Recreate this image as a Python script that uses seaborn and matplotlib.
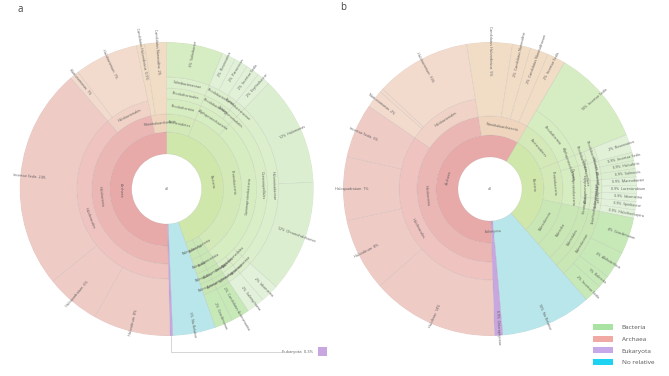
import numpy as np
import pandas as pd
import matplotlib
matplotlib.use("Agg")
import matplotlib.pyplot as plt
from matplotlib.patches import Patch, Rectangle
from matplotlib.lines import Line2D
import seaborn as sns

# ---------------- data ----------------
# chart a: leaves in clockwise order starting at 12 o'clock (percent of reads)
A_PATHS = [
    "Bacteria;Bacteroidetes;Rhodothermia;Rhodothermales;Salinibacteraceae;Salinibacter",
    "Bacteria;Proteobacteria;Alphaproteobacteria;Rhodobacterales;Rhodobacteraceae;Roseovarius",
    "Bacteria;Proteobacteria;Alphaproteobacteria;Rhodobacterales;Rhodobacteraceae;Paracoccus",
    "Bacteria;Proteobacteria;Alphaproteobacteria;Rhodobacterales;Rhodobacteraceae;Incertae Sedis",
    "Bacteria;Proteobacteria;Alphaproteobacteria;Sphingomonadales;Erythrobacteraceae;Erythrobacter",
    "Bacteria;Proteobacteria;Gammaproteobacteria;Oceanospirillales;Halomonadaceae;Halomonas",
    "Bacteria;Proteobacteria;Gammaproteobacteria;Oceanospirillales;Halomonadaceae;Chromohalobacter",
    "Bacteria;Proteobacteria;Gammaproteobacteria;Alteromonadales;Idiomarinaceae;Idiomarina",
    "Bacteria;Proteobacteria;Gammaproteobacteria;Chromatiales;Salinisphaeraceae;Salinisphaera",
    "Bacteria;Actinobacteria;Acidimicrobiia;Actinomarinales;Actinomarinaceae;Candidatus Actinomarina",
    "Bacteria;Balneolaeota;Balneolia;Balneolales;Balneolaceae;Gracilimonas",
    "No Relative",
    "Eukaryota",
    "Archaea;Halobacteria;Haloferacales;Halorubrum",
    "Archaea;Halobacteria;Haloferacales;Haloquadratum",
    "Archaea;Halobacteria;Haloferacales;Incertae Sedis",
    "Archaea;Halobacteria;Halobacteriales;Natronomonas",
    "Archaea;Halobacteria;Halobacteriales;Halobacterium",
    "Archaea;Nanohaloarchaeota;Candidatus Haloredivivus",
    "Archaea;Nanohaloarchaeota;Candidatus Nanosalina",
]
A_VALUES = [6.2, 1.5, 1.5, 1.5, 1.5, 12.0, 12.3, 2.0, 2.0, 2.0, 2.0,
            4.7, 0.3,
            8.5, 6.0, 24.4, 1.0, 7.0, 0.9, 2.4]

# chart b
B_PATHS = [
    "Bacteria;Bacteroidetes;Rhodothermia;Incertae Sedis",
    "Bacteria;Proteobacteria;Alphaproteobacteria;Rhodobacterales;Rhodobacteraceae;Roseovarius",
    "Bacteria;Proteobacteria;Gammaproteobacteria;Oceanospirillales;Halomonadaceae;Incertae Sedis",
    "Bacteria;Proteobacteria;Gammaproteobacteria;Oceanospirillales;Halomonadaceae;Halovibrio",
    "Bacteria;Proteobacteria;Gammaproteobacteria;Oceanospirillales;Halomonadaceae;Salinicola",
    "Bacteria;Proteobacteria;Gammaproteobacteria;Alteromonadales;Alteromonadaceae;Marinobacter",
    "Bacteria;Proteobacteria;Gammaproteobacteria;Alteromonadales;Alteromonadaceae;Lacimicrobium",
    "Bacteria;Proteobacteria;Gammaproteobacteria;Alteromonadales;Idiomarinaceae;Idiomarina",
    "Bacteria;Proteobacteria;Gammaproteobacteria;Chromatiales;Ectothiorhodospiraceae;Spiribacter",
    "Bacteria;Proteobacteria;Gammaproteobacteria;Chromatiales;Ectothiorhodospiraceae;Halorhodospira",
    "Bacteria;Balneolaeota;Balneolia;Balneolales;Balneolaceae;Gracilimonas",
    "Bacteria;Balneolaeota;Balneolia;Balneolales;Balneolaceae;Aliifodinibius",
    "Bacteria;Balneolaeota;Balneolia;Balneolales;Balneolaceae;Balneola",
    "Bacteria;Balneolaeota;Balneolia;Balneolales;Balneolaceae;Incertae Sedis",
    "No Relative",
    "Eukaryota;Chlorophyceae",
    "Archaea;Halobacteria;Haloferacales;Haloferax",
    "Archaea;Halobacteria;Haloferacales;Halorubrum",
    "Archaea;Halobacteria;Haloferacales;Haloquadratum",
    "Archaea;Halobacteria;Haloferacales;Incertae Sedis",
    "Archaea;Halobacteria;Halobacteriales;Natronomonas",
    "Archaea;Halobacteria;Halobacteriales;Halobellus",
    "Archaea;Halobacteria;Halobacteriales;Halobacterium",
    "Archaea;Nanohaloarchaeota;Candidatus Haloredivivus",
    "Archaea;Nanohaloarchaeota;Candidatus Nanosalina",
    "Archaea;Nanohaloarchaeota;Candidatus Nanosalinarum",
    "Archaea;Nanohaloarchaeota;Incertae Sedis",
]
B_VALUES = [10.5, 2.0, 0.9, 0.9, 0.9, 0.9, 0.9, 0.9, 0.9, 0.9, 4.0, 3.0, 1.4, 2.0,
            10.0, 0.9,
            14.0, 8.0, 7.0, 6.0, 2.0, 0.4, 10.5, 5.0, 2.0, 2.0, 2.0]

LEGEND_LABELS = ["Bacteria", "Archaea", "Eukaryota", "No relative"]
LEGEND_COLORS = ["#a9e2a2", "#f1aaa3", "#c7a9e9", "#1ed3f1"]

# ---------------- style ----------------
sns.set_theme(style="white")
plt.rcParams["font.family"] = ["Open Sans", "DejaVu Sans"]

W, H = 669, 376
fig = plt.figure(figsize=(W / 100, H / 100), dpi=100)

OUTER = 147
RINGS_A = [35, 57, 75, 90, 101, 112]
RINGS_B = [32, 54, 73, 91, 101, 112]
TXT = "#5a5a5a"
FS = 2.6


def node_color(prefix, leaf):
    k = prefix[0]
    d = len(prefix)
    if k == "No Relative":
        return "#b9e6ea"
    if k == "Eukaryota":
        return "#c8a6e0"
    if k == "Archaea":
        if "Nanohaloarchaeota" in prefix:
            return "#f1dcc6" if leaf else "#efd5bd"
        if "Halobacteriales" in prefix:
            return "#f2dacd" if leaf else "#f0d3c6"
        return ["#e8a9a9", "#ebb7b5", "#eec3c0", "#efcbc6"][min(d, 4) - 1]
    # Bacteria
    greener = any(p in prefix for p in ("Balneolaeota", "Actinobacteria"))
    if greener and d >= 2:
        return "#c6e9b7" if leaf else "#c9e7b5"
    if leaf:
        if "Bacteroidetes" in prefix:
            return "#d6ecc2"
        if "Alphaproteobacteria" in prefix:
            return "#e0f1d8"
        if len(prefix) == 6 and prefix[-2] != "Halomonadaceae":
            return "#e2f2da"
        return "#dbefd0"
    return ["#cfe7ab", "#d3eab8", "#d6ecc1", "#d9eec7", "#dcefcc"][min(d, 5) - 1]


def pct_text(v):
    return f"{v:.1f}%" if v < 1 else f"{round(v):.0f}%"


def norm_rot(a):
    a = (a + 180) % 360 - 180
    return a


def draw_sunburst(ax, paths, values, rings, rot, key_min=1.5):
    splits = [p.split(";") for p in paths]
    vals = np.asarray(values, float)
    span = vals / vals.sum() * 360
    ends = rot + np.cumsum(span)
    starts = ends - span
    rows = []
    maxd = max(len(s) for s in splits)
    for d in range(1, maxd + 1):
        cur, cs, ce, last = None, None, None, None
        for i, s in enumerate(splits):
            if len(s) > d:
                key = tuple(s[:d])
                if cur == key and last == i - 1:
                    ce = ends[i]
                else:
                    if cur is not None:
                        rows.append((cur, cs, ce, False, None))
                    cur, cs, ce = key, starts[i], ends[i]
                last = i
        if cur is not None:
            rows.append((cur, cs, ce, False, None))
    for i, s in enumerate(splits):
        rows.append((tuple(s), starts[i], ends[i], True, vals[i]))

    df = pd.DataFrame(rows, columns=["prefix", "start", "end", "leaf", "value"])
    df["depth"] = df["prefix"].apply(len)
    df["r_in"] = df["depth"].apply(lambda d: rings[d - 1])
    df["r_out"] = [OUTER if lf else rings[d] for lf, d in zip(df["leaf"], df["depth"])]
    df["mid"] = (df["start"] + df["end"]) / 2
    df["color"] = [node_color(p, lf) for p, lf in zip(df["prefix"], df["leaf"])]

    ax.bar(np.deg2rad(df["mid"]), df["r_out"] - df["r_in"],
           width=np.deg2rad(df["end"] - df["start"]), bottom=df["r_in"],
           color=df["color"], edgecolor=(0.55, 0.55, 0.55, 0.22), linewidth=0.35,
           align="center")

    key_rows = []
    for _, r in df.iterrows():
        th = r["mid"] % 360
        name = r["prefix"][-1]
        if r["leaf"]:
            if r["end"] - r["start"] < key_min:
                key_rows.append(r)
                continue
            p = pct_text(r["value"])
            if th < 180:
                txt, rotd = f"{p}  {name}", 90 - th
            else:
                txt, rotd = f"{name}  {p}", 270 - th
            ax.text(np.deg2rad(th), 138, txt, rotation=norm_rot(rotd), rotation_mode="anchor",
                    ha="center", va="center", fontsize=FS, color=TXT)
        else:
            rm = (r["r_in"] + r["r_out"]) / 2
            arc = np.deg2rad(r["end"] - r["start"]) * rm
            if arc < 2.0:
                continue
            rotd = 180 - th if 90 < th < 270 else -th
            ax.text(np.deg2rad(th), rm, name, rotation=norm_rot(rotd), rotation_mode="anchor",
                    ha="center", va="center", fontsize=FS, color=TXT)
    ax.text(0, 0, "all", ha="center", va="center", fontsize=FS, color=TXT)
    return key_rows


def make_polar(cx, cy):
    ax = fig.add_axes([(cx - OUTER) / W, (H - cy - OUTER) / H, 2 * OUTER / W, 2 * OUTER / H],
                      projection="polar")
    ax.set_theta_zero_location("N")
    ax.set_theta_direction(-1)
    ax.set_ylim(0, OUTER)
    ax.set_axis_off()
    return ax


ax_a = make_polar(166.7, 189)
keys = draw_sunburst(ax_a, A_PATHS, A_VALUES, RINGS_A, rot=0.0)
ax_b = make_polar(490, 189)
draw_sunburst(ax_b, B_PATHS, B_VALUES, RINGS_B, rot=30.5)

# key (callout) for tiny wedge in chart a
fig.canvas.draw()
for r in keys:
    x0, y0 = ax_a.transData.transform((np.deg2rad(r["mid"]), OUTER))
    x0f, y0f = x0 / W, y0 / H
    ky = 1 - 352 / H
    kx = 281 / W
    fig.add_artist(Line2D([x0f, x0f, kx], [y0f, ky, ky], transform=fig.transFigure,
                          color="#cfcfcf", lw=0.6))
    fig.text(kx + 1 / W, ky, f"{r['prefix'][-1]}  {pct_text(r['value'])}", ha="left",
             va="center", fontsize=3.0, color=TXT)
    fig.add_artist(Rectangle((318 / W, 1 - 356 / H), 9 / W, 9 / H, transform=fig.transFigure,
                             facecolor=r["color"], edgecolor="none"))

# legend
pal = sns.color_palette(LEGEND_COLORS)
handles = [Patch(facecolor=c, edgecolor="none", label=l) for c, l in zip(pal, LEGEND_LABELS)]
fig.legend(handles=handles, loc="upper left", bbox_to_anchor=(593 / W, 1 - 324 / H),
           frameon=False, fontsize=4.6, handlelength=3.2, handleheight=1.1,
           labelspacing=0.85, handletextpad=1.3, borderaxespad=0, borderpad=0,
           labelcolor="#555555")

fig.text(17 / W, 1 - 10 / H, "a", fontsize=7, color="#444444", va="center")
fig.text(340 / W, 1 - 8 / H, "b", fontsize=7, color="#444444", va="center")

fig.savefig("out.png", dpi=100, facecolor="white")
